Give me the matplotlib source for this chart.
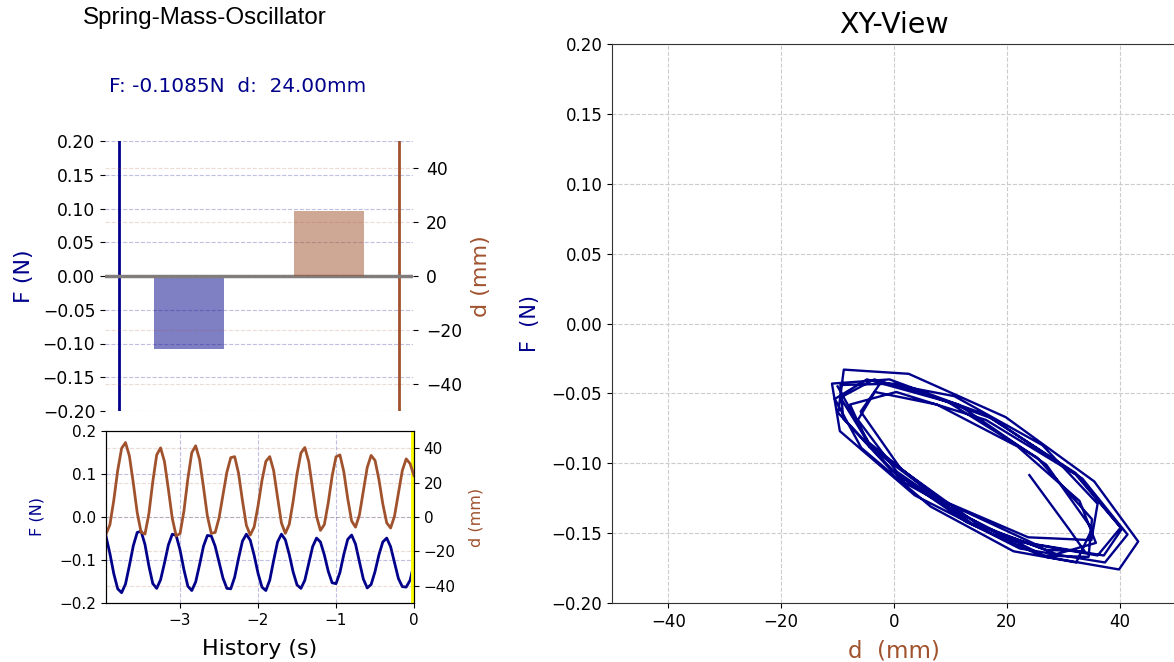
import matplotlib
matplotlib.use("Agg")
import matplotlib.pyplot as plt
import numpy as np

plt.rcParams["font.family"] = "DejaVu Sans"

# current readings
force_now = -0.1085
disp_now = 24.0

# history, sampled every 0.05 s (oldest first)
t_step = 0.05
disp_hist = [
    -10.0, -4.5, 9.8, 27.0, 39.9, 43.3, 35.5, 19.8, 2.6, -8.9,
    -9.9, 1.9, 20.5, 36.1, 40.2, 32.2, 16.1, -0.8, -11.0, -9.6,
    3.7, 22.3, 37.4, 41.4, 33.4, 17.4, 0.6, -9.5, -9.0, -0.5,
    12.8, 26.0, 34.5, 35.1, 25.4, 9.5, -4.8, -10.5, -5.8, 6.5,
    21.2, 32.3, 35.1, 27.0, 11.4, -3.5, -9.5, -4.3, 9.1, 25.1,
    37.2, 40.4, 32.2, 16.3, 0.4, -7.8, -4.4, 8.2, 23.8, 35.0,
    36.1, 26.3, 10.7, -2.3, -5.9, 1.2, 15.0, 28.8, 35.8, 32.9,
    21.9, 7.6, -3.4, -6.4, 0.5, 13.8, 27.0, 33.8, 31.0, 24.0,
]
force_hist = [
    -0.045, -0.085, -0.132, -0.167, -0.176, -0.156, -0.113, -0.067, -0.036, -0.033,
    -0.064, -0.114, -0.155, -0.166, -0.146, -0.107, -0.065, -0.040, -0.043, -0.077,
    -0.123, -0.161, -0.171, -0.151, -0.111, -0.068, -0.043, -0.044, -0.068, -0.105,
    -0.142, -0.166, -0.167, -0.140, -0.096, -0.056, -0.040, -0.054, -0.089, -0.131,
    -0.163, -0.171, -0.147, -0.101, -0.058, -0.040, -0.053, -0.087, -0.128, -0.158,
    -0.166, -0.147, -0.108, -0.069, -0.049, -0.058, -0.088, -0.126, -0.153, -0.155,
    -0.129, -0.087, -0.052, -0.042, -0.063, -0.104, -0.144, -0.165, -0.157, -0.127,
    -0.088, -0.058, -0.049, -0.069, -0.106, -0.143, -0.162, -0.163, -0.147, -0.1085,
]
t_hist = (np.arange(len(disp_hist)) - (len(disp_hist) - 1)) * t_step

f_col = "darkblue"
d_col = "sienna"

W, H = 1174, 662
fig = plt.figure(figsize=(W / 100, H / 100), dpi=100)


def box(l, t, r, b):
    return [l / W, (H - b) / H, (r - l) / W, (b - t) / H]


fig.text(83 / W, 1 - 18 / H, "Spring-Mass-Oscillator", fontsize=17.4,
         family="Liberation Sans", va="center", ha="left")
fig.text(238 / W, 1 - 87 / H, f"F: {force_now:.4f}N  d:  {disp_now:.2f}mm",
         fontsize=14.4, color=f_col, va="center", ha="center")

# bar view
ax = fig.add_axes(box(105, 141, 413, 411))
ax2 = ax.twinx()
ax.bar([0], [force_now], width=0.5, color=f_col, alpha=0.5)
ax2.bar([1], [disp_now], width=0.5, color=d_col, alpha=0.5)
ax.axvline(-0.5, color=f_col, lw=2)
ax.axvline(1.5, color=d_col, lw=2)
ax.axhline(0, color="gray", lw=2.5, zorder=5)
ax.set_xlim(-0.6, 1.6)
ax.set_ylim(-0.2, 0.2)
ax2.set_ylim(-50, 50)
ax.set_yticks(np.arange(-0.2, 0.21, 0.05))
ax2.set_yticks([-40, -20, 0, 20, 40])
ax.set_xticks([])
for a in (ax, ax2):
    for s in a.spines.values():
        s.set_visible(False)
ax.yaxis.grid(True, ls="--", color=f_col, alpha=0.25)
ax2.yaxis.grid(True, ls="--", color=d_col, alpha=0.2)
ax.tick_params(labelsize=12.3)
ax2.tick_params(labelsize=12.3, pad=6)
ax.set_ylabel("F (N)", color=f_col, fontsize=16, labelpad=6)
ax2.set_ylabel("d (mm)", color=d_col, fontsize=16, labelpad=6)

# history view
hx = fig.add_axes(box(106, 431, 414, 603))
hx2 = hx.twinx()
hx.plot(t_hist, force_hist, color=f_col, lw=2)
hx2.plot(t_hist, disp_hist, color=d_col, lw=2)
hx.axvline(0, color="yellow", lw=5)
hx.set_xlim(t_hist[0], 0)
hx.set_ylim(-0.2, 0.2)
hx2.set_ylim(-50, 50)
hx.set_yticks([-0.2, -0.1, 0.0, 0.1, 0.2])
hx2.set_yticks([-40, -20, 0, 20, 40])
hx.set_xticks([-3, -2, -1, 0])
hx.grid(True, ls="--", color=f_col, alpha=0.25)
hx2.yaxis.grid(True, ls="--", color=d_col, alpha=0.2)
hx.tick_params(labelsize=11)
hx2.tick_params(labelsize=11)
hx.set_ylabel("F (N)", color=f_col, fontsize=11.5, labelpad=11)
hx2.set_ylabel("d (mm)", color=d_col, fontsize=11.5, labelpad=9)
hx.set_xlabel("History (s)", fontsize=16, labelpad=8)

# XY view
xy = fig.add_axes(box(612, 44, 1176, 603))
xy.plot(disp_hist, force_hist, color=f_col, lw=1.7)
xy.set_xlim(-50, 50)
xy.set_ylim(-0.2, 0.2)
xy.set_xticks([-40, -20, 0, 20, 40])
xy.set_yticks(np.arange(-0.2, 0.21, 0.05))
xy.grid(True, ls="--", color="#cccccc")
xy.tick_params(labelsize=12)
for s in xy.spines.values():
    s.set_color("#333333")
xy.set_xlabel("d  (mm)", color=d_col, fontsize=16.5, labelpad=6)
xy.set_ylabel("F  (N)", color=f_col, fontsize=15, labelpad=8)
xy.set_title("XY-View", fontsize=20.5, pad=8)

fig.savefig("out.png", dpi=100)
